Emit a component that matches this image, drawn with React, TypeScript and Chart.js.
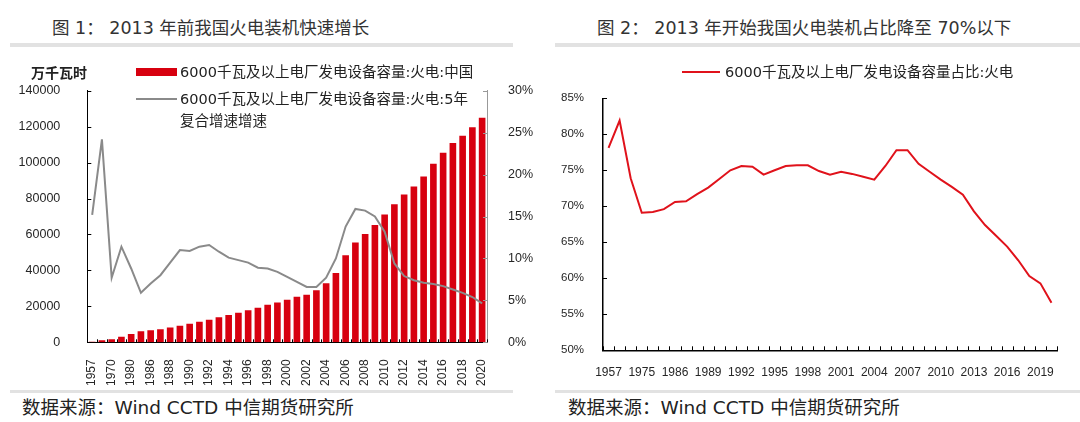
import React, { useEffect, useRef } from 'react';
import { Chart, registerables } from 'chart.js';

Chart.register(...registerables);

// Years on the category axis (shared by both charts)
const years = [
  '1957', '1965', '1970', '1975', '1980', '1985', '1986', '1987', '1988', '1989',
  '1990', '1991', '1992', '1993', '1994', '1995', '1996', '1997', '1998', '1999',
  '2000', '2001', '2002', '2003', '2004', '2005', '2006', '2007', '2008', '2009',
  '2010', '2011', '2012', '2013', '2014', '2015', '2016', '2017', '2018', '2019',
  '2020',
];

// Thermal generating capacity of plants >= 6000 kW (万千瓦)
const thermalCapacity = [
  360, 1100, 1700, 3100, 4600, 6100, 6650, 7200, 8300, 9200,
  10300, 11400, 12600, 13900, 15200, 16500, 17800, 19200, 20900, 22200,
  23700, 25300, 26500, 28900, 32800, 38500, 48500, 55500, 60300, 65300,
  71100, 76800, 82200, 86700, 92200, 99400, 105500, 110900, 115000, 119600,
  125000,
];

// 5-year compound growth rate of thermal capacity (%)
const fiveYearCagr = [
  15.2, 24.2, 7.7, 11.4, 8.8, 5.9, 7.0, 8.0, 9.5, 11.0,
  10.9, 11.4, 11.6, 10.8, 10.1, 9.8, 9.5, 8.9, 8.8, 8.4,
  7.8, 7.2, 6.6, 6.6, 7.7, 10.0, 13.8, 15.9, 15.7, 15.0,
  13.2, 9.4, 7.9, 7.4, 7.1, 6.95, 6.7, 6.3, 5.9, 5.4,
  4.65,
];

// Thermal share of total capacity (%)
const thermalShare = [
  78.1, 81.9, 73.9, 69.1, 69.2, 69.6, 70.6, 70.7, 71.7, 72.6,
  73.8, 75.0, 75.6, 75.5, 74.4, 75.0, 75.6, 75.7, 75.7, 74.9,
  74.4, 74.8, 74.5, 74.1, 73.7, 75.6, 77.8, 77.8, 75.9, 74.8,
  73.7, 72.7, 71.6, 69.3, 67.4, 65.9, 64.4, 62.5, 60.3, 59.3,
  56.6,
];

const capacityLabel = '6000千瓦及以上电厂发电设备容量:火电:中国';
const cagrLabel = '6000千瓦及以上电厂发电设备容量:火电:5年复合增速增速';
const shareLabel = '6000千瓦及以上电厂发电设备容量占比:火电';

const TICK_FONT = '"Liberation Sans", Arial, sans-serif';
const CJK_FONT = '"DejaVu Sans", "Noto Sans CJK SC", sans-serif';
const TEXT_COLOR = '#262626';

// Draws short tick marks pointing into the plot area
const inwardTicks = {
  id: 'inwardTicks',
  afterDraw(chart: any, _args: any, opts: any) {
    const ctx = chart.ctx;
    ctx.save();
    ctx.lineWidth = 1;
    for (const spec of opts.axes || []) {
      const scale = chart.scales[spec.id];
      if (!scale) continue;
      ctx.strokeStyle = spec.color;
      ctx.beginPath();
      const len = spec.length || 4;
      if (scale.isHorizontal()) {
        const n = scale.ticks.length;
        const half = (scale.getPixelForValue(1) - scale.getPixelForValue(0)) / 2;
        for (let i = 0; i <= n; i++) {
          const x = Math.round(scale.getPixelForValue(i) - half) + 0.5;
          ctx.moveTo(x, scale.top);
          ctx.lineTo(x, scale.top - len);
        }
      } else {
        const left = scale.position === 'left';
        const x0 = left ? scale.right : scale.left;
        for (const t of scale.ticks) {
          const y = Math.round(scale.getPixelForValue(t.value)) + 0.5;
          ctx.moveTo(x0, y);
          ctx.lineTo(left ? x0 + len : x0 - len, y);
        }
      }
      ctx.stroke();
    }
    ctx.restore();
  },
};

function CapacityChart() {
  const ref = useRef<HTMLCanvasElement | null>(null);
  useEffect(() => {
    if (!ref.current) return;
    const chart = new Chart(ref.current, {
      type: 'bar',
      data: {
        labels: years,
        datasets: [
          {
            type: 'line',
            label: cagrLabel,
            data: fiveYearCagr,
            yAxisID: 'y1',
            borderColor: '#8a8a8a',
            borderWidth: 2,
            pointRadius: 0,
            tension: 0,
            order: 0,
          } as any,
          {
            type: 'bar',
            label: capacityLabel,
            data: thermalCapacity,
            yAxisID: 'y',
            backgroundColor: '#d7000f',
            barPercentage: 0.68,
            categoryPercentage: 1,
            order: 1,
          },
        ],
      },
      options: {
        responsive: false,
        animation: false,
        devicePixelRatio: 1,
        layout: { padding: { top: 30.7, left: 0, right: 0, bottom: 0 } },
        plugins: {
          legend: { display: false },
          tooltip: { enabled: false },
          inwardTicks: {
            axes: [
              { id: 'x', color: '#000', length: 3 },
              { id: 'y', color: '#000', length: 4 },
              { id: 'y1', color: '#999', length: 4 },
            ],
          },
        } as any,
        scales: {
          x: {
            grid: { display: false },
            border: { display: true, color: '#000', width: 1 },
            ticks: {
              autoSkip: false,
              minRotation: 90,
              maxRotation: 90,
              padding: 9,
              color: TEXT_COLOR,
              font: { family: TICK_FONT, size: 12 },
              callback: (_v: any, i: number) => (i % 2 === 0 ? years[i] : ''),
            },
            afterFit: (s: any) => {
              s.height = 47.7;
            },
          },
          y: {
            position: 'left',
            min: 0,
            max: 140000,
            grid: { display: false },
            border: { display: true, color: '#000', width: 1 },
            ticks: {
              stepSize: 20000,
              padding: 19,
              color: TEXT_COLOR,
              font: { family: TICK_FONT, size: 12.5 },
              callback: (v: any) => String(v),
            },
            afterFit: (s: any) => {
              s.width = 87.3;
            },
          },
          y1: {
            position: 'right',
            min: 0,
            max: 30,
            grid: { display: false },
            border: { display: true, color: '#999', width: 1 },
            ticks: {
              stepSize: 5,
              padding: 13,
              color: TEXT_COLOR,
              font: { family: TICK_FONT, size: 12.5 },
              callback: (v: any) => `${v}%`,
            },
            afterFit: (s: any) => {
              s.width = 53;
            },
          },
        },
      },
      plugins: [inwardTicks],
    });
    return () => chart.destroy();
  }, []);
  return (
    <canvas
      ref={ref}
      width={540}
      height={330}
      style={{ position: 'absolute', left: 0, top: 60, width: 540, height: 330 }}
    />
  );
}

function ShareChart() {
  const ref = useRef<HTMLCanvasElement | null>(null);
  useEffect(() => {
    if (!ref.current) return;
    const chart = new Chart(ref.current, {
      type: 'line',
      data: {
        labels: years,
        datasets: [
          {
            label: shareLabel,
            data: thermalShare,
            borderColor: '#e0121b',
            borderWidth: 2,
            pointRadius: 0,
            tension: 0,
          },
        ],
      },
      options: {
        responsive: false,
        animation: false,
        devicePixelRatio: 1,
        layout: { padding: { top: 38.3, left: 0, right: 23, bottom: 0 } },
        plugins: {
          legend: { display: false },
          tooltip: { enabled: false },
          inwardTicks: {
            axes: [
              { id: 'x', color: '#000', length: 4 },
              { id: 'y', color: '#000', length: 4 },
            ],
          },
        } as any,
        scales: {
          x: {
            offset: true,
            grid: { display: false },
            border: { display: true, color: '#000', width: 1.5 },
            ticks: {
              autoSkip: false,
              maxRotation: 0,
              minRotation: 0,
              padding: 7,
              color: TEXT_COLOR,
              font: { family: TICK_FONT, size: 12 },
              callback: (_v: any, i: number) => (i % 3 === 0 ? years[i] : ''),
            },
            afterFit: (s: any) => {
              s.height = 39.7;
            },
          },
          y: {
            min: 50,
            max: 85,
            grid: { display: false },
            border: { display: true, color: '#000', width: 1.5 },
            ticks: {
              stepSize: 5,
              padding: 11,
              color: TEXT_COLOR,
              font: { family: TICK_FONT, size: 11.5 },
              callback: (v: any) => `${v}%`,
            },
            afterFit: (s: any) => {
              s.width = 63;
            },
          },
        },
      },
      plugins: [inwardTicks],
    });
    return () => chart.destroy();
  }, []);
  return (
    <canvas
      ref={ref}
      width={540}
      height={330}
      style={{ position: 'absolute', left: 540, top: 60, width: 540, height: 330 }}
    />
  );
}

function Text(props: {
  x: number;
  y: number;
  size: number;
  children: React.ReactNode;
  bold?: boolean;
  color?: string;
}) {
  const lh = Math.round(props.size * 1.3);
  return (
    <div
      style={{
        position: 'absolute',
        left: props.x,
        top: props.y - lh / 2,
        fontSize: props.size,
        lineHeight: `${lh}px`,
        fontWeight: props.bold ? 700 : 400,
        color: props.color || TEXT_COLOR,
        whiteSpace: 'nowrap',
        fontFamily: CJK_FONT,
      }}
    >
      {props.children}
    </div>
  );
}

function Rule(props: { x: number; y: number; w: number; h: number; color: string }) {
  return (
    <div
      style={{
        position: 'absolute',
        left: props.x,
        top: props.y,
        width: props.w,
        height: props.h,
        background: props.color,
      }}
    />
  );
}

export default function App() {
  return (
    <div
      style={{
        position: 'absolute',
        left: 0,
        top: 0,
        width: 1080,
        height: 422,
        background: '#fff',
        overflow: 'hidden',
      }}
    >
      {/* Left panel */}
      <Text x={52} y={28} size={17.5} color="#333">
        图 1：&nbsp;2013 年前我国火电装机快速增长
      </Text>
      <Rule x={10} y={43} w={503} h={4} color="#e2e2e2" />
      <CapacityChart />
      <Text x={31} y={73} size={14} bold color="#222">
        万千瓦时
      </Text>
      <Rule x={136} y={68} w={41} h={8} color="#d7000f" />
      <Text x={180} y={72} size={14.5} color="#222">
        {capacityLabel}
      </Text>
      <Rule x={136} y={98} w={41} h={2} color="#8a8a8a" />
      <Text x={180} y={99} size={14.5} color="#222">
        6000千瓦及以上电厂发电设备容量:火电:5年
      </Text>
      <Text x={180} y={121} size={14.5} color="#222">
        复合增速增速
      </Text>
      <Rule x={10} y={390} w={503} h={3} color="#e2e2e2" />
      <Text x={22} y={408} size={18.5} color="#222">
        数据来源：Wind CCTD 中信期货研究所
      </Text>

      {/* Right panel */}
      <Text x={597} y={28} size={17.5} color="#333">
        图 2：&nbsp;2013 年开始我国火电装机占比降至 70%以下
      </Text>
      <Rule x={555} y={43} w={525} h={4} color="#e2e2e2" />
      <ShareChart />
      <Rule x={682} y={71} w={38} h={2} color="#e0121b" />
      <Text x={725} y={72} size={14.5} color="#222">
        {shareLabel}
      </Text>
      <Rule x={555} y={390} w={525} h={3} color="#e2e2e2" />
      <Text x={568} y={408} size={18.5} color="#222">
        数据来源：Wind CCTD 中信期货研究所
      </Text>
    </div>
  );
}
